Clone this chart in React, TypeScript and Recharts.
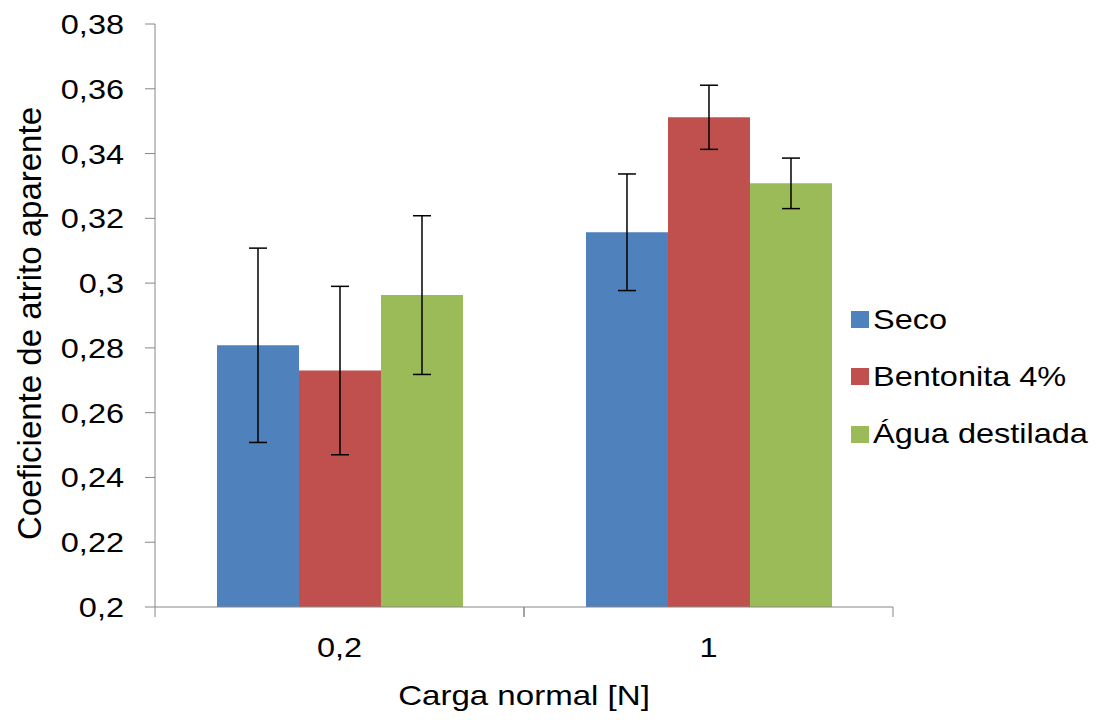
import { BarChart, Bar, XAxis, YAxis, Legend, ErrorBar, Label } from "recharts";

const categories = ["0,2", "1"];
const seco = [0.2808, 0.3157];
const secoErr = [0.03, 0.018];
const bentonita = [0.273, 0.3512];
const bentonitaErr = [0.026, 0.0099];
const agua = [0.2963, 0.3308];
const aguaErr = [0.0245, 0.0078];
const yTicks = [0.2, 0.22, 0.24, 0.26, 0.28, 0.3, 0.32, 0.34, 0.36, 0.38];

const series = [
  { key: "seco", name: "Seco", color: "#4F81BD" },
  { key: "bentonita", name: "Bentonita 4%", color: "#C0504D" },
  { key: "agua", name: "Água destilada", color: "#9BBB59" },
];

const data = categories.map((c, i) => ({
  carga: c,
  seco: seco[i],
  secoErr: secoErr[i],
  bentonita: bentonita[i],
  bentonitaErr: bentonitaErr[i],
  agua: agua[i],
  aguaErr: aguaErr[i],
}));

const FONT = '"Liberation Sans", Arial, sans-serif';
const AXIS = "#868686";
// the source image is a bit wider than tall, so the glyphs are stretched sideways
const SX = 1.16;

const fmt = (v: number) => Number(v.toFixed(2)).toString().replace(".", ",");

const WideText = ({ x, y, anchor, size, children }: any) => (
  <text
    transform={`translate(${x}, ${y}) scale(${SX}, 1)`}
    x={0}
    y={0}
    textAnchor={anchor}
    fill="#000"
    style={{ fontFamily: FONT, fontSize: size }}
  >
    {children}
  </text>
);

const ValueTick = (props: any) => {
  const { x, y, payload } = props;
  return (
    <WideText x={x} y={y + 10} anchor="end" size={28}>
      {fmt(payload.value)}
    </WideText>
  );
};

const CategoryTick = (props: any) => {
  const { x, y, payload, width, visibleTicksCount } = props;
  const half =
    width && visibleTicksCount ? width / visibleTicksCount / 2 : payload.offset;
  return (
    <g>
      <line x1={x - half} y1={y} x2={x - half} y2={y + 10} stroke={AXIS} />
      <line x1={x + half} y1={y} x2={x + half} y2={y + 10} stroke={AXIS} />
      <WideText x={x} y={y + 50} anchor="middle" size={28}>
        {payload.value}
      </WideText>
    </g>
  );
};

const XTitle = ({ viewBox }: any) => (
  <WideText x={viewBox.x + viewBox.width / 2} y={viewBox.y + 98} anchor="middle" size={28.5}>
    Carga normal [N]
  </WideText>
);

const YTitle = ({ viewBox }: any) => {
  const cx = 41;
  const cy = viewBox.y + viewBox.height / 2 + 8;
  return (
    <text
      x={cx}
      y={cy}
      transform={`rotate(-90, ${cx}, ${cy})`}
      textAnchor="middle"
      fill="#000"
      style={{ fontFamily: FONT, fontSize: 33 }}
    >
      Coeficiente de atrito aparente
    </text>
  );
};

const LegendBox = () => (
  <div style={{ fontFamily: FONT, fontSize: 28, color: "#000" }}>
    {series.map((s) => (
      <div
        key={s.key}
        style={{ display: "flex", alignItems: "center", height: 57.3, lineHeight: 1 }}
      >
        <span
          style={{ width: 18, height: 17, background: s.color, marginRight: 4, flex: "none" }}
        />
        <span
          style={{
            whiteSpace: "nowrap",
            display: "inline-block",
            transform: `scaleX(${SX})`,
            transformOrigin: "left center",
          }}
        >
          {s.name}
        </span>
      </div>
    ))}
  </div>
);

export default function App() {
  return (
    <div style={{ position: "absolute", left: 0, top: 0, background: "#fff" }}>
      <BarChart
        width={1108}
        height={720}
        data={data}
        margin={{ top: 24, right: 215, bottom: 0, left: 0 }}
        barCategoryGap="16.8%"
        barGap={0}
      >
        <XAxis
          dataKey="carga"
          height={113}
          axisLine={{ stroke: AXIS }}
          tickLine={false}
          tickSize={0}
          tickMargin={0}
          interval={0}
          tick={<CategoryTick />}
        >
          <Label content={<XTitle />} />
        </XAxis>
        <YAxis
          type="number"
          width={155}
          domain={[0.2, 0.38]}
          ticks={yTicks}
          interval={0}
          axisLine={{ stroke: AXIS }}
          tickLine={{ stroke: AXIS }}
          tickSize={10}
          tickMargin={21}
          tick={<ValueTick />}
        >
          <Label content={<YTitle />} />
        </YAxis>
        <Legend
          layout="vertical"
          align="center"
          verticalAlign="middle"
          content={<LegendBox />}
          wrapperStyle={{ left: 851, top: 291, width: 257 }}
        />
        {series.map((s) => (
          <Bar
            key={s.key}
            dataKey={s.key}
            name={s.name}
            fill={s.color}
            isAnimationActive={false}
          >
            <ErrorBar
              dataKey={s.key + "Err"}
              width={9}
              stroke="#000"
              strokeWidth={1.5}
              isAnimationActive={false}
            />
          </Bar>
        ))}
      </BarChart>
    </div>
  );
}
